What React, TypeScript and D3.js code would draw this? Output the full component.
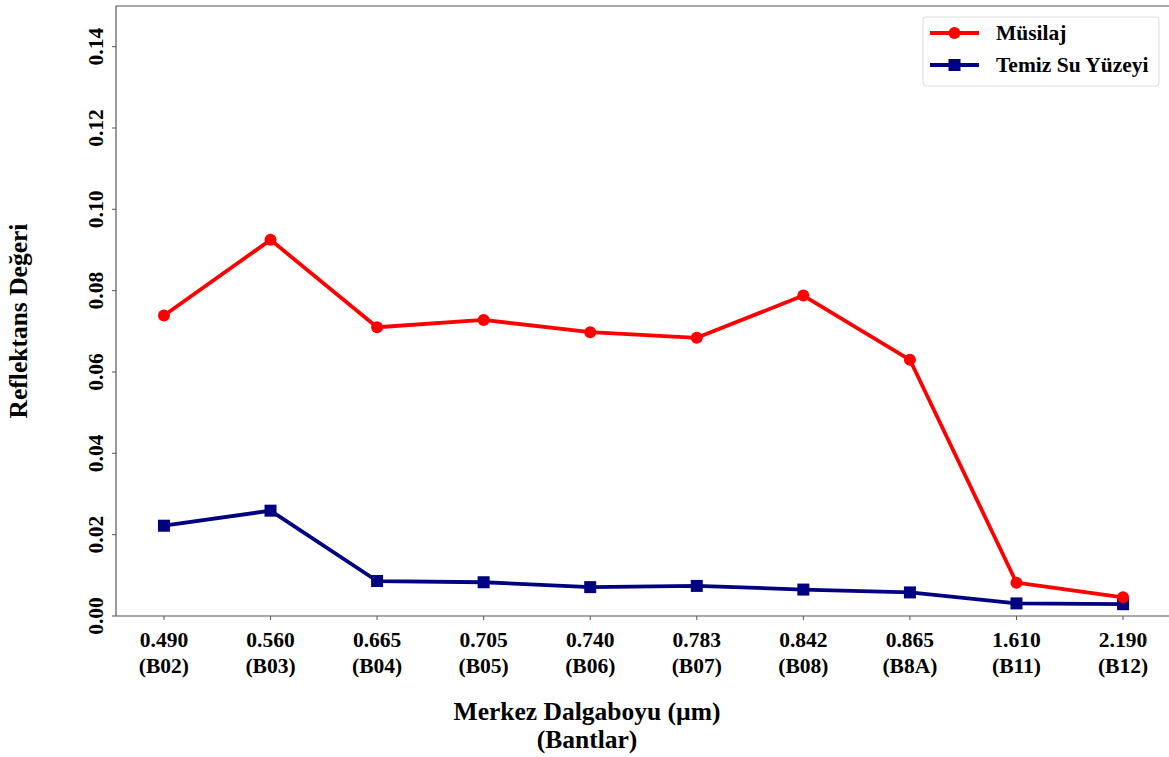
import * as d3 from "d3";
import React, { useEffect, useRef } from "react";

const wavelengths = ["0.490", "0.560", "0.665", "0.705", "0.740", "0.783", "0.842", "0.865", "1.610", "2.190"];
const bands = ["(B02)", "(B03)", "(B04)", "(B05)", "(B06)", "(B07)", "(B08)", "(B8A)", "(B11)", "(B12)"];
const musilaj = [0.0739, 0.0925, 0.071, 0.0728, 0.0698, 0.0684, 0.0788, 0.063, 0.0082, 0.0046];
const temizSu = [0.0222, 0.0259, 0.0086, 0.0083, 0.0071, 0.0074, 0.0065, 0.0058, 0.0031, 0.0029];
const yTicks = [0, 0.02, 0.04, 0.06, 0.08, 0.1, 0.12, 0.14];

const FONT = "'Liberation Serif', 'Times New Roman', serif";

export default function App() {
  const ref = useRef<SVGSVGElement | null>(null);

  useEffect(() => {
    const svg = d3.select(ref.current);
    svg.selectAll("*").remove();

    const width = 1169;
    const height = 757;
    const left = 116;
    const top = 6;
    const bottom = 616;

    svg.attr("width", width).attr("height", height);

    const x = d3.scaleLinear().domain([-0.45, 9.45]).range([left, 1171]);
    const y = d3.scaleLinear().domain([0, 0.15]).range([bottom, top]);

    // spines
    const spine = "#555";
    svg.append("line").attr("x1", left).attr("x2", width).attr("y1", top).attr("y2", top)
      .attr("stroke", spine).attr("stroke-width", 1.2);
    svg.append("line").attr("x1", left).attr("x2", left).attr("y1", top).attr("y2", bottom)
      .attr("stroke", spine).attr("stroke-width", 1.2);
    svg.append("line").attr("x1", left).attr("x2", width).attr("y1", bottom).attr("y2", bottom)
      .attr("stroke", spine).attr("stroke-width", 1.2);

    // y ticks
    const yg = svg.append("g");
    yTicks.forEach((t) => {
      yg.append("line").attr("x1", left - 4).attr("x2", left).attr("y1", y(t)).attr("y2", y(t))
        .attr("stroke", spine).attr("stroke-width", 1);
      yg.append("text")
        .attr("transform", `translate(103,${y(t)}) rotate(-90)`)
        .attr("text-anchor", "middle")
        .style("font-family", FONT).style("font-weight", "bold").style("font-size", "21.5px")
        .text(t.toFixed(2));
    });

    // x ticks
    const xg = svg.append("g");
    wavelengths.forEach((w, i) => {
      xg.append("line").attr("x1", x(i)).attr("x2", x(i)).attr("y1", bottom).attr("y2", bottom + 4)
        .attr("stroke", spine).attr("stroke-width", 1);
      const t = xg.append("text")
        .attr("text-anchor", "middle")
        .style("font-family", FONT).style("font-weight", "bold").style("font-size", "21.5px");
      t.append("tspan").attr("x", x(i)).attr("y", 647).text(w);
      t.append("tspan").attr("x", x(i)).attr("y", 673).text(bands[i]);
    });

    // axis labels
    svg.append("text")
      .attr("transform", `translate(27,321) rotate(-90)`)
      .attr("text-anchor", "middle")
      .style("font-family", FONT).style("font-weight", "bold").style("font-size", "25.5px")
      .text("Reflektans Değeri");

    const xl = svg.append("text")
      .attr("text-anchor", "middle")
      .style("font-family", FONT).style("font-weight", "bold").style("font-size", "25.5px");
    xl.append("tspan").attr("x", 587).attr("y", 720).text("Merkez Dalgaboyu (µm)");
    xl.append("tspan").attr("x", 587).attr("y", 748).text("(Bantlar)");

    const line = d3.line<number>().x((_, i) => x(i)).y((d) => y(d));

    // Temiz Su Yüzeyi
    svg.append("path").datum(temizSu).attr("d", line).attr("fill", "none")
      .attr("stroke", "#000080").attr("stroke-width", 3.8).attr("stroke-linejoin", "round");
    svg.append("g").selectAll("rect").data(temizSu).enter().append("rect")
      .attr("x", (_, i) => x(i) - 6).attr("y", (d) => y(d) - 6)
      .attr("width", 12).attr("height", 12).attr("fill", "#000080");

    // Müsilaj
    svg.append("path").datum(musilaj).attr("d", line).attr("fill", "none")
      .attr("stroke", "#ff0000").attr("stroke-width", 3.8).attr("stroke-linejoin", "round");
    svg.append("g").selectAll("circle").data(musilaj).enter().append("circle")
      .attr("cx", (_, i) => x(i)).attr("cy", (d) => y(d)).attr("r", 6).attr("fill", "#ff0000");

    // legend
    const lg = svg.append("g");
    lg.append("rect").attr("x", 923).attr("y", 17).attr("width", 236).attr("height", 69)
      .attr("rx", 3).attr("fill", "white").attr("stroke", "#ddd").attr("stroke-width", 1);
    const items = [
      { label: "Müsilaj", color: "#ff0000", shape: "circle", yy: 33 },
      { label: "Temiz Su Yüzeyi", color: "#000080", shape: "square", yy: 65 },
    ];
    items.forEach((it) => {
      lg.append("line").attr("x1", 930).attr("x2", 979).attr("y1", it.yy).attr("y2", it.yy)
        .attr("stroke", it.color).attr("stroke-width", 3.8);
      if (it.shape === "circle") {
        lg.append("circle").attr("cx", 954.5).attr("cy", it.yy).attr("r", 6).attr("fill", it.color);
      } else {
        lg.append("rect").attr("x", 948.5).attr("y", it.yy - 6).attr("width", 12).attr("height", 12).attr("fill", it.color);
      }
      lg.append("text").attr("x", 996).attr("y", it.yy + 7)
        .style("font-family", FONT).style("font-weight", "bold").style("font-size", "21.5px")
        .text(it.label);
    });
  }, []);

  return (
    <div style={{ position: "absolute", left: 0, top: 0 }}>
      <svg ref={ref} style={{ display: "block" }} />
    </div>
  );
}
